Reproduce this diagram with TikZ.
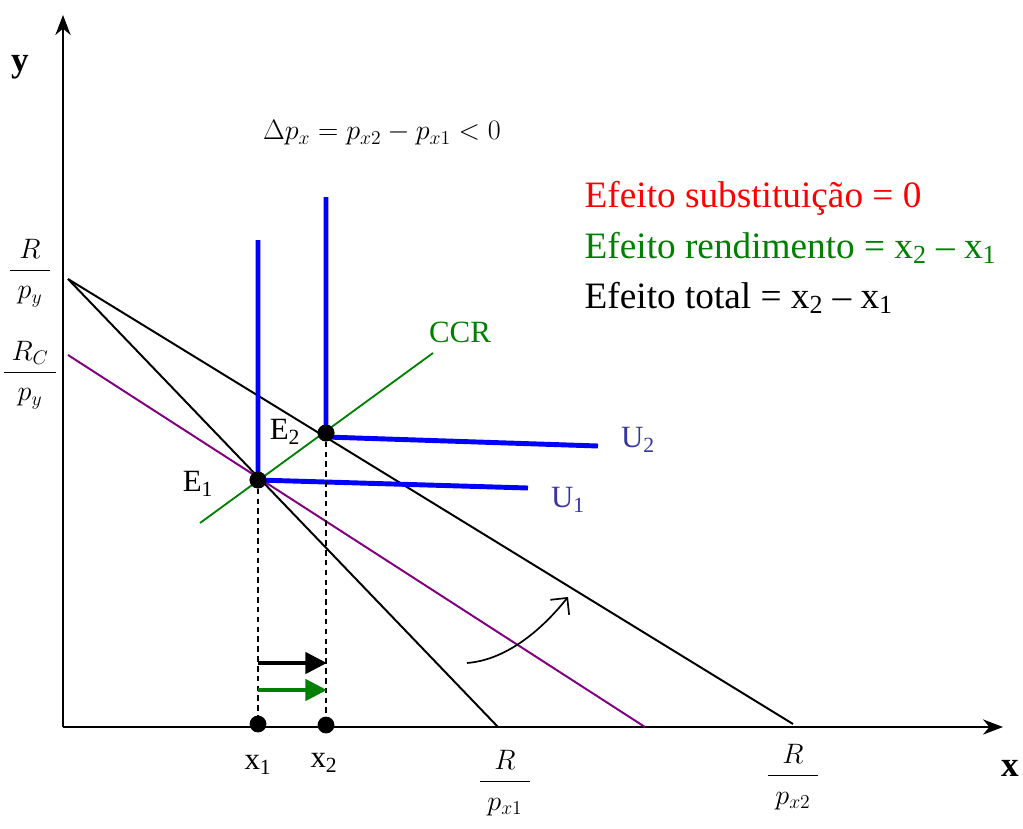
\RequirePackage{fix-cm}
\documentclass[tikz,border=0pt]{standalone}
\usepackage{fontspec}
\setmainfont{Liberation Serif}
\usetikzlibrary{arrows.meta,positioning,calc}
\definecolor{ccrgreen}{HTML}{008000}
\definecolor{ublue}{HTML}{0000FF}
\definecolor{ulabel}{HTML}{3434A6}
\definecolor{rcpurple}{HTML}{800080}
\newcommand{\pfrac}[2]{$\displaystyle\frac{\;#1\rule[-5pt]{0pt}{0pt}\;}{\;\rule{0pt}{19pt}#2\;}$}
\tikzset{axisline/.style={line width=1.5pt,-{Stealth[length=5mm,width=3.8mm,inset=1.6mm]}},
 budget/.style={line width=1.4pt,draw=black},
 rcline/.style={line width=1.4pt,draw=rcpurple},
 ccrline/.style={line width=1.3pt,draw=ccrgreen},
 ucurve/.style={line width=3.5pt,draw=ublue},
 guide/.style={line width=0.9pt,dash pattern=on 4pt off 3pt},
 dot/.style={circle,fill=black,inner sep=0pt,minimum size=0.42cm},
 shiftarrow/.style={line width=3.5pt,-{Triangle[length=5.4mm,width=5.2mm]}}}

\begin{document}
\begin{tikzpicture}[x=0.025cm,y=-0.025cm,lbl/.style={inner sep=1pt,font=\fontsize{22}{26}\selectfont},
 big/.style={inner sep=1pt,font=\fontsize{26.5}{30}\selectfont},
 frac/.style={inner sep=1pt,font=\fontsize{20}{24}\selectfont}]
\useasboundingbox (0,0) rectangle (1023,828);
\coordinate (o) at (63,727);\coordinate (ytop) at (63,15);\coordinate (xend) at (1003,727);
\draw[axisline] (o)--(ytop);\draw[axisline] (o)--(xend);
\node[lbl,font=\fontsize{25}{28}\selectfont\bfseries] (ylab) at (20,67) {y};
\node[lbl,font=\fontsize{25}{28}\selectfont\bfseries] (xlab) at (1010,768) {x};
\node[frac] (rpy) at (30,273) {\pfrac{R}{p_y}};
\node[frac] (rcpy) at (30,375) {\pfrac{R_C}{p_y}};
\node[frac] (rpx1) at (505,783) {\pfrac{R}{p_{x1}}};
\node[frac] (rpx2) at (793,777) {\pfrac{R}{p_{x2}}};
\node[frac] (dp) at (382,133) {$\Delta p_x = p_{x2} - p_{x1} < 0$};
\coordinate (a) at (68,279);\coordinate (b1) at (498,727);\coordinate (b2) at (793,724);
\coordinate (c) at (68,355);\coordinate (c1) at (645,727);
\draw[budget] (a)--(b1);\draw[budget] (a)--(b2);\draw[rcline] (c)--(c1);
\coordinate (g0) at (200,523);\coordinate (g1) at (433,353);
\draw[ccrline] (g0)--(g1);
\node[lbl,text=ccrgreen] (ccr) at (460,332) {CCR};
\node[dot] (e1) at (258,480) {};\node[dot] (e2) at (326,433) {};
\node[dot] (x1) at (258,724) {};\node[dot] (x2) at (326,725) {};
\coordinate (u1t) at (258,240);\coordinate (u1r) at (528,488);
\coordinate (u2t) at (326,197);\coordinate (u2r) at (598,446);
\draw[ucurve] (u1t)--(e1.center)--(u1r);
\draw[ucurve] (u2t)--($(e2.center)+(0,4)$)--(u2r);
\fill (e1) circle (0.21cm);\fill (e2) circle (0.21cm);
\node[lbl,text=ulabel] (u1) at (568,500) {U\textsubscript{1}};
\node[lbl,text=ulabel] (u2) at (638,440) {U\textsubscript{2}};
\node[lbl] (e1lab) at (198,484) {E\textsubscript{1}};
\node[lbl] (e2lab) at (285,432) {E\textsubscript{2}};
\draw[guide] (e1)--(x1);\draw[guide] (e2)--(x2);
\node[lbl] (x1lab) at (258,765) {x\textsubscript{1}};
\node[lbl] (x2lab) at (324,763) {x\textsubscript{2}};
\coordinate (ta) at (258,663);\coordinate (tb) at (327,663);
\coordinate (ra) at (258,690);\coordinate (rb) at (327,690);
\draw[shiftarrow] (ta)--(tb);\draw[shiftarrow,ccrgreen] (ra)--(rb);
\coordinate (k0) at (467,663);\coordinate (k1) at (568,597);
\draw[line width=1.2pt,-{Straight Barb[length=3mm,width=6mm]}] (k0) .. controls (505,660) and (540,632) .. (k1);
\node[big,anchor=west,text=red] (es) at (583,198) {Efeito substituição = 0};
\node[big,anchor=west,text=ccrgreen] (er) at (583,248) {Efeito rendimento = x\textsubscript{2} – x\textsubscript{1}};
\node[big,anchor=west] (et) at (583,298) {Efeito total = x\textsubscript{2} – x\textsubscript{1}};
\end{tikzpicture}
\end{document}
